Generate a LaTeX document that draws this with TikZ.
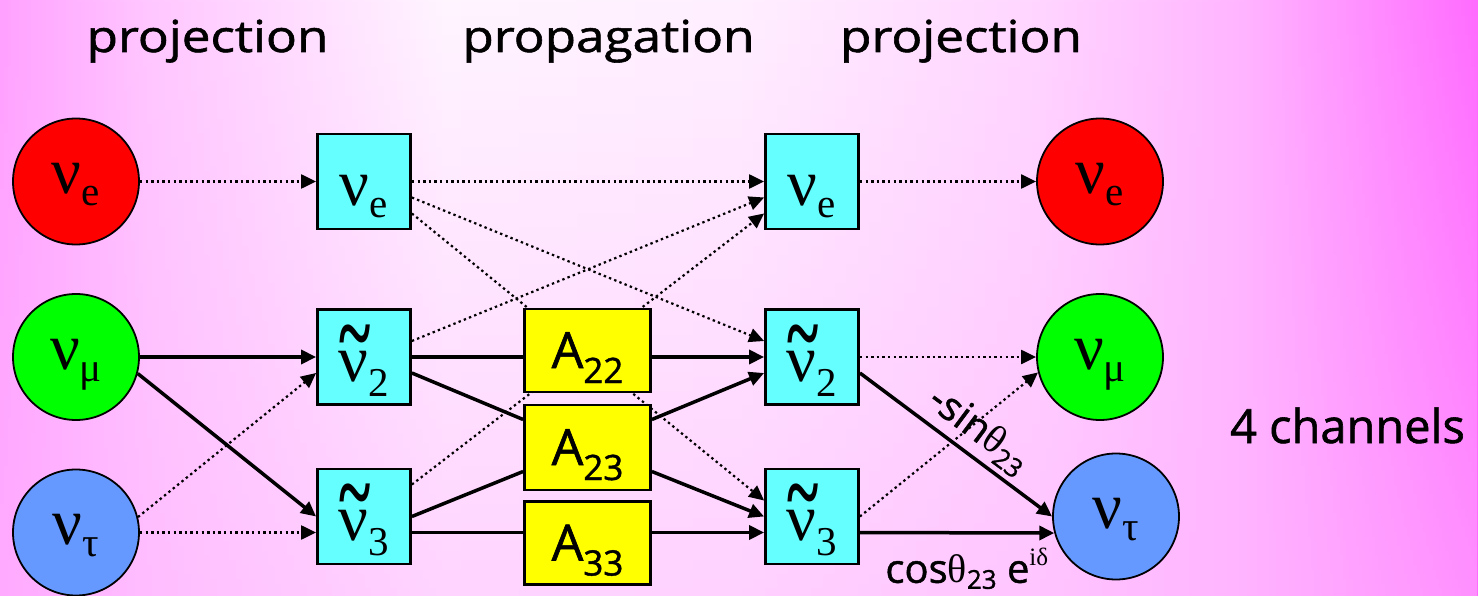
\documentclass[tikz,border=0pt]{standalone}
\usepackage{fontspec}
\usepackage{graphicx}
\setmainfont{Open Sans}[FakeBold=1.2]
\newfontfamily\gk{Liberation Serif}
\usetikzlibrary{arrows.meta,fadings,calc}
\pgfdeclarelayer{back}\pgfdeclarelayer{mid}
\pgfsetlayers{back,mid,main}
\definecolor{redc}{RGB}{255,0,0}
\definecolor{greenc}{RGB}{0,255,0}
\definecolor{bluec}{RGB}{102,153,255}
\definecolor{cyanc}{RGB}{102,255,255}
\definecolor{yelc}{RGB}{255,255,0}
\definecolor{overpink}{RGB}{255,180,255}
\pgfdeclarehorizontalshading{bgshade}{100bp}{rgb(0bp)=(1,0.63,1); rgb(25bp)=(1,0.63,1); rgb(30bp)=(1,0.78,1); rgb(40bp)=(1,0.96,1); rgb(50bp)=(1,0.94,1); rgb(60bp)=(1,0.84,1); rgb(67bp)=(1,0.71,1); rgb(75bp)=(1,0.42,1); rgb(100bp)=(1,0.42,1)}
\tikzfading[name=fadebottom, top color=transparent!100, middle color=transparent!88, bottom color=transparent!50]
\newcommand{\nuA}[1]{{\gk\fontsize{66}{66}\selectfont ν}\raisebox{-12pt}{\gk\fontsize{41}{41}\selectfont #1}}
\newcommand{\nuT}[1]{\makebox[0pt][l]{\raisebox{16pt}[0pt][0pt]{\hspace{1pt}\gk\bfseries\fontsize{60}{60}\selectfont\scalebox{1}[1.6]{\char`\~}}}{\gk\fontsize{66}{66}\selectfont ν}\raisebox{-15pt}{\gk\fontsize{41}{41}\selectfont #1}}
\newcommand{\Amp}[1]{{\fontsize{50}{50}\selectfont A}\raisebox{-15pt}{\fontsize{35}{35}\selectfont #1}}
\tikzset{
  circ/.style={circle, draw=black, line width=1.8pt, minimum size=126pt, inner sep=0pt, text height=36pt, text depth=12pt},
  cbox/.style={rectangle, draw=black, line width=2.8pt, fill=cyanc, minimum width=93pt, minimum height=95pt, inner sep=0pt, text height=60pt, text depth=12pt},
  ybox/.style={rectangle, draw=black, line width=2.8pt, fill=yelc, minimum width=126pt, minimum height=83pt, inner sep=0pt, text height=50pt, text depth=15pt},
  solidln/.style={draw=black, line width=3.5pt},
  dotln/.style={draw=black, line width=2.2pt, dash pattern=on 2.4pt off 3.2pt},
  arr/.style={-{Triangle[length=15pt,width=14pt]}},
  title/.style={anchor=base, inner sep=0pt, font=\fontsize{42}{42}\selectfont},
}
\begin{document}
\begin{tikzpicture}[x=1pt,y=-1pt]
\useasboundingbox (0,0) rectangle (1478,596);
\begin{pgfonlayer}{back}
\shade[shading=bgshade] (0,0) rectangle (1478,596);
\fill[overpink, path fading=fadebottom] (0,0) rectangle (1478,596);
\end{pgfonlayer}
% titles
\node[title] (t1) at (207.5,52) {\scalebox{1.22}[1.05]{projection}};
\node[title] (t2) at (608.5,52) {\scalebox{1.22}[1.05]{propagation}};
\node[title] (t3) at (961,52) {\scalebox{1.22}[1.05]{projection}};
\node[anchor=base, inner sep=0pt, font=\fontsize{47}{47}\selectfont] (ch) at (1347.5,443) {4 channels};
% left circles
\node[circ, fill=redc] (cLe) at (76,181.5) {\nuA{e}};
\node[circ, fill=greenc] (cLm) at (76,357) {\nuA{μ}};
\node[circ, fill=bluec] (cLt) at (76,532.5) {\nuA{τ}};
% first boxes
\node[cbox] (b1e) at (364,181.5) {\nuA{e}};
\node[cbox] (b1two) at (364,357) {\nuT{2}};
\node[cbox] (b1three) at (364,516.5) {\nuT{3}};
% yellow
\node[ybox] (y22) at (587.5,350.5) {\Amp{22}};
\node[ybox, minimum height=85pt] (y23) at (587.5,447.5) {\Amp{23}};
\node[ybox] (y33) at (587.5,543) {\Amp{33}};
% second boxes
\node[cbox] (b2e) at (812,181.5) {\nuA{e}};
\node[cbox] (b2two) at (812,357) {\nuT{2}};
\node[cbox] (b2three) at (812,516.5) {\nuT{3}};
% right circles
\node[circ, fill=redc] (cRe) at (1100,181.5) {\nuA{e}};
\node[circ, fill=greenc] (cRm) at (1100,357) {\nuA{μ}};
\node[circ, fill=bluec] (cRt) at (1116,516.5) {\nuA{τ}};
% ports
\coordinate (p1lo) at ([yshift=-16pt]b1three.east);
\coordinate (p2lo) at ([yshift=-16pt]b2three.west);
\coordinate (p2loE) at ([yshift=-16pt]b2three.east);
\begin{pgfonlayer}{mid}
% left -> first boxes
\draw[dotln,arr] (cLe) -- (b1e);
\draw[solidln,arr] (cLm) -- (b1two);
\draw[solidln,arr] (cLm.-15) -- (b1three.west);
\draw[dotln,arr] (cLt.14) -- ([yshift=-16pt]b1two.west);
\draw[dotln,arr] (cLt.east) -- ([yshift=-16pt]b1three.west);
% first boxes -> yellow
\draw[solidln] (b1two.east) -- (b1two.east -| y22.west);
\draw[solidln] ([yshift=-16pt]b1two.east) -- ([yshift=28pt]y23.west);
\draw[solidln] (b1three.east) -- ([yshift=-24pt]y23.west);
\draw[solidln] (p1lo) -- (p1lo -| y33.west);
% yellow -> second boxes
\draw[solidln,arr] (b2two.west -| y22.east) -- (b2two.west);
\draw[solidln,arr] ([yshift=28pt]y23.east) -- ([yshift=-16pt]b2two.west);
\draw[solidln,arr] ([yshift=-24pt]y23.east) -- (b2three.west);
\draw[solidln,arr] (p2lo -| y33.east) -- (p2lo);
% first boxes -> second boxes (dotted)
\draw[dotln,arr] (b1e) -- (b2e);
\draw[dotln,arr] ([yshift=-16pt]b1e.east) -- ([yshift=16pt]b2two.west);
\draw[dotln,arr] ([yshift=-32pt]b1e.east) -- ([yshift=16pt]b2three.west);
\draw[dotln,arr] ([yshift=16pt]b1two.east) -- ([yshift=-16pt]b2e.west);
\draw[dotln,arr] ([yshift=32pt]b1three.east) -- ([yshift=-32pt]b2e.west);
% second boxes -> right
\draw[dotln,arr] (b2e) -- (cRe);
\draw[dotln,arr] (b2two) -- (cRm);
\draw[dotln,arr] (b2three.east) -- (cRm.194);
\draw[solidln,arr] ([yshift=-16pt]b2two.east) -- (cRt.west)
  node[pos=0.54, sloped, yshift=25pt, inner sep=0pt] (lsin) {\fontsize{40}{40}\selectfont -sin{\gk θ}\raisebox{-7pt}{\fontsize{26}{26}\selectfont 23}};
\draw[solidln,arr] (p2loE) -- (cRt.195)
  node[pos=0.55, anchor=base, yshift=-50pt, inner sep=0pt] (lcos) {\fontsize{40}{40}\selectfont cos{\gk θ}\raisebox{-6pt}{\fontsize{26}{26}\selectfont 23} e\raisebox{17pt}{\gk\fontsize{25}{25}\selectfont iδ}};
\end{pgfonlayer}
\end{tikzpicture}
\end{document}
